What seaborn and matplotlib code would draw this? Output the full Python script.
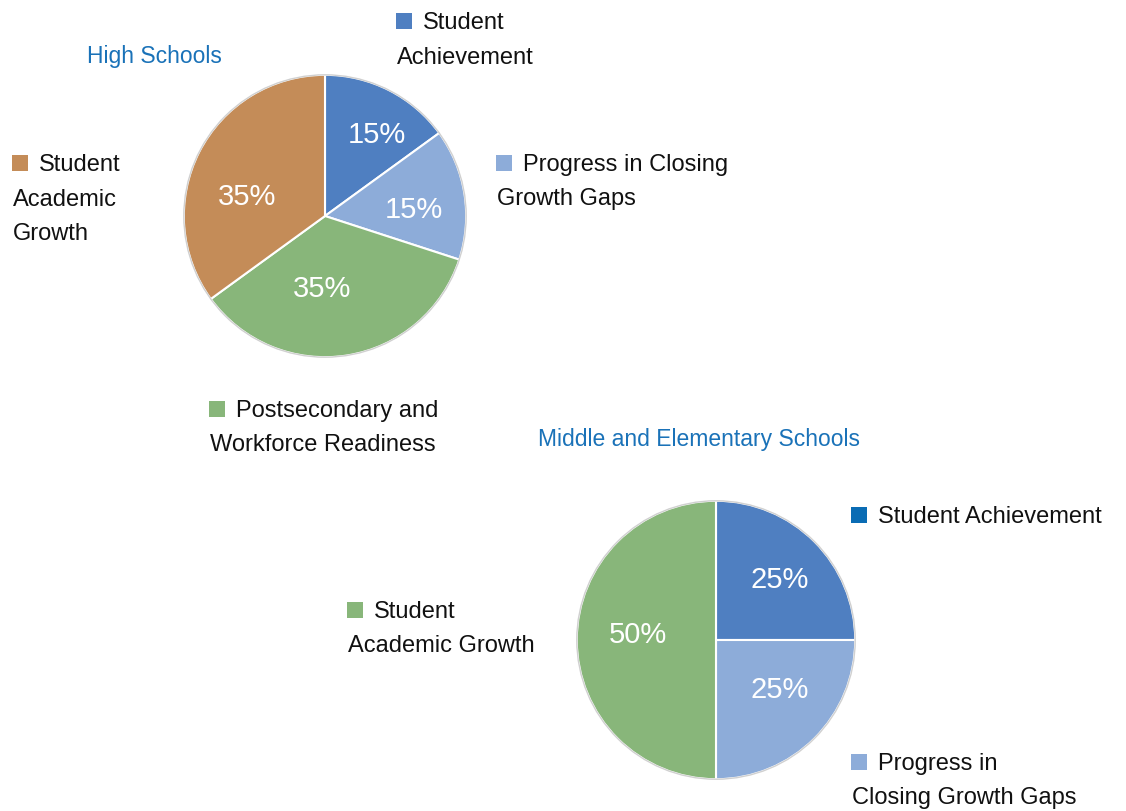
import matplotlib.pyplot as plt
import seaborn as sns

# data
hs_labels = ['Student Achievement', 'Progress in Closing Growth Gaps',
             'Postsecondary and Workforce Readiness', 'Student Academic Growth']
hs_values = [15, 15, 35, 35]
ms_labels = ['Student Achievement', 'Progress in Closing Growth Gaps',
             'Student Academic Growth']
ms_values = [25, 25, 50]

# where the percentage labels sit (fraction of radius), as in the original
hs_label_pos = [(0.37, 0.58), (0.63, 0.05), (-0.02, -0.51), (-0.55, 0.14)]
ms_label_pos = [(0.46, 0.44), (0.46, -0.35), (-0.56, 0.04)]

blue = '#4F7FC1'
light_blue = '#8DACD9'
green = '#88B67A'
tan = '#C48C58'
hs_colors = sns.color_palette([blue, light_blue, green, tan])
ms_colors = sns.color_palette([blue, light_blue, green])

sns.set_theme(style='white')
plt.rcParams['font.family'] = ['Liberation Sans', 'DejaVu Sans']

fig = plt.figure(figsize=(11.26, 8.12), dpi=100)
W, H = 1126, 812


def pie_axes(cx, cy, r):
    return fig.add_axes([(cx - r) / W, 1 - (cy + r) / H, 2 * r / W, 2 * r / H])


def draw_pie(ax, values, colors, label_pos):
    _, _, texts = ax.pie(values, colors=colors, startangle=90, counterclock=False,
                         autopct='%d%%',
                         wedgeprops=dict(edgecolor='white', linewidth=1.5),
                         textprops=dict(color='white', fontsize=21))
    for t, pos in zip(texts, label_pos):
        t.set_position(pos)
    ax.add_patch(plt.Circle((0, 0), 1.0, fill=False, edgecolor='#d0d0d0', lw=1))
    ax.set_xlim(-1.02, 1.02)
    ax.set_ylim(-1.02, 1.02)
    ax.axis('off')


ax1 = pie_axes(325, 217, 144)
draw_pie(ax1, hs_values, hs_colors, hs_label_pos)
ax2 = pie_axes(716, 641, 142)
draw_pie(ax2, ms_values, ms_colors, ms_label_pos)

# overlay for titles and legend labels, pixel coords
ov = fig.add_axes([0, 0, 1, 1])
ov.set_xlim(0, W)
ov.set_ylim(H, 0)
ov.axis('off')

title_kw = dict(color='#1A72B8', fontsize=16.5, va='center',
                family=['Liberation Sans Narrow', 'Liberation Sans'])
ov.text(87, 56, 'High Schools', **title_kw)
ov.text(538, 440, 'Middle and Elementary Schools', **title_kw)


def legend_item(x, y, color, first, rest):
    ov.scatter([x + 6], [y], marker='s', s=140, color=color, lw=0)
    ov.text(x + 25, y + 1, first, fontsize=17, va='center', color='#111111')
    for i, line in enumerate(rest):
        ov.text(x - 1, y + 1 + 34.5 * (i + 1), line, fontsize=17, va='center',
                color='#111111')


legend_item(398, 22, hs_colors[0], 'Student', ['Achievement'])
legend_item(498, 164, hs_colors[1], 'Progress in Closing', ['Growth Gaps'])
legend_item(211, 410, hs_colors[2], 'Postsecondary and', ['Workforce Readiness'])
legend_item(14, 164, hs_colors[3], 'Student', ['Academic', 'Growth'])

legend_item(853, 516, '#0A6CB4', 'Student Achievement', [])
legend_item(853, 763, ms_colors[1], 'Progress in', ['Closing Growth Gaps'])
legend_item(349, 611, ms_colors[2], 'Student', ['Academic Growth'])

fig.savefig('out.png', dpi=100)
